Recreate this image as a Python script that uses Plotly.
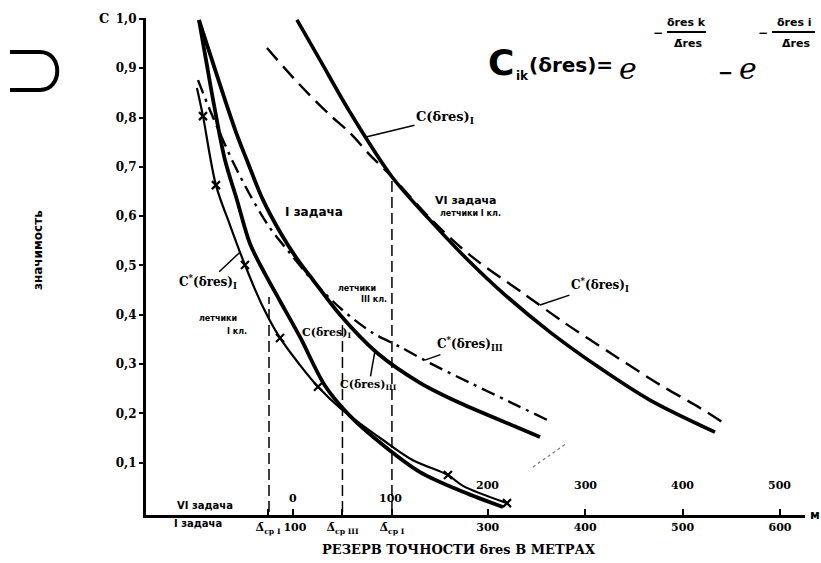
import plotly.graph_objects as go

# ---------------- data ----------------
# x: reserve of accuracy (upper scale, "VI задача"), y: significance C
t1_x = [-98.6, -92.4, -79.1, -64.7, -49.3, -31.8, -13.3, 7.2, 25.7, 48.3, 92.4, 123.2, 159.1, 174.5, 219.7]
t1_y = [0.860, 0.803, 0.663, 0.582, 0.501, 0.420, 0.353, 0.298, 0.254, 0.211, 0.146, 0.105, 0.075, 0.053, 0.018]
t1_mark_x = [-92.4, -79.1, -49.3, -13.3, 25.7, 159.1, 219.7]
t1_mark_y = [0.803, 0.663, 0.501, 0.353, 0.254, 0.075, 0.018]

k1_x = [-96.5, -89.3, -81.1, -69.8, -57.5, -44.1, -28.7, -13.3, 7.2, 32.9, 58.5, 92.4, 130.4, 174.5, 215.6]
k1_y = [0.998, 0.917, 0.826, 0.714, 0.633, 0.544, 0.483, 0.428, 0.355, 0.256, 0.195, 0.136, 0.081, 0.041, 0.010]

k3_x = [-96.5, -83.2, -69.8, -57.5, -46.2, -30.8, -13.3, 5.1, 20.5, 48.3, 86.2, 130.4, 171.5, 230.0, 253.6]
k3_y = [0.998, 0.917, 0.836, 0.765, 0.708, 0.633, 0.568, 0.511, 0.471, 0.400, 0.323, 0.262, 0.221, 0.172, 0.152]

dd_x = [-97.5, -85.2, -72.9, -61.6, -44.1, -23.6, -3.1, 19.5, 48.3, 82.1, 109.9, 140.7, 181.7, 222.8, 260.8]
dd_y = [0.876, 0.815, 0.759, 0.710, 0.643, 0.576, 0.525, 0.471, 0.414, 0.363, 0.335, 0.302, 0.262, 0.223, 0.187]

r1_x = [4.1, 27.7, 58.5, 101.6, 140.7, 181.7, 215.6, 263.9, 315.2, 366.5, 433.3]
r1_y = [0.998, 0.917, 0.811, 0.680, 0.592, 0.507, 0.444, 0.365, 0.292, 0.227, 0.162]

r2_x = [-26.7, 7.2, 38.0, 58.5, 79.1, 101.6, 140.7, 181.7, 236.1, 279.3, 325.5, 376.8, 417.9, 445.6]
r2_y = [0.941, 0.866, 0.805, 0.769, 0.724, 0.680, 0.596, 0.521, 0.444, 0.383, 0.323, 0.258, 0.211, 0.176]

# vertical guide lines (Δср)
vline_x = [-24.6, 50.8, 101.6]
vline_top = [0.436, 0.380, 0.680]

y_ticks = [0.1, 0.2, 0.3, 0.4, 0.5, 0.6, 0.7, 0.8, 0.9, 1.0]
y_tick_text = ["0,1", "0,2", "0,3", "0,4", "0,5", "0,6", "0,7", "0,8", "0,9", "1,0"]

lower_tick_vals = [-25.6, 0, 50.8, 101.6, 200, 300, 400, 500]
lower_tick_text = ["Δ̄<sub>ср I</sub>", " 100", "Δ̄<sub>ср III</sub>", "Δ̄<sub>ср I</sub>", "300", "400", "500", "600"]
upper_tick_vals = [0, 100, 200, 300, 400, 500]
upper_tick_text = ["0", "100", "200", "300", "400", "500"]

# ---------------- figure ----------------
W, H = 821, 563
ML, MT = 146, 18
PW, PH = 659, 497
MR, MB = W - ML - PW, H - MT - PH


def P(px, py):
    """reference-picture pixel -> paper coordinates"""
    return (px - ML) / PW, (H - MB - py) / PH


SERIF = "DejaVu Serif"
SANS = "DejaVu Sans"
BLK = "black"

fig = go.Figure()


def add_line(x, y, width, dash="solid"):
    fig.add_trace(go.Scatter(x=x, y=y, mode="lines",
                             line=dict(color=BLK, width=width, dash=dash, shape="spline", smoothing=0.9),
                             hoverinfo="skip", showlegend=False))


add_line(t1_x, t1_y, 2.2)
add_line(k1_x, k1_y, 3.8)
add_line(k3_x, k3_y, 3.8)
add_line(dd_x, dd_y, 2.4, "14px,6px,3px,6px")
add_line(r1_x, r1_y, 3.6)
add_line(r2_x, r2_y, 2.4, "16px,8px")

fig.add_trace(go.Scatter(x=t1_mark_x, y=t1_mark_y, mode="markers",
                         marker=dict(symbol="x-thin", size=8, line=dict(width=2.2, color=BLK)),
                         hoverinfo="skip", showlegend=False))

for vx, vt in zip(vline_x, vline_top):
    fig.add_trace(go.Scatter(x=[vx, vx], y=[0, vt], mode="lines",
                             line=dict(color=BLK, width=1.5, dash="11px,5px"),
                             hoverinfo="skip", showlegend=False))

ann = []


def txt(px, py, text, size=11, family=SANS, bold=True, xanchor="center", angle=0):
    x, y = P(px, py)
    ann.append(dict(x=x, y=y, xref="paper", yref="paper", text=(f"<b>{text}</b>" if bold else text),
                    showarrow=False, xanchor=xanchor, yanchor="middle", textangle=angle,
                    font=dict(family=family, size=size, color=BLK)))


def leader(xd, yd, ax, ay, text, size=12):
    ann.append(dict(x=xd, y=yd, xref="x", yref="y", text=f"<b>{text}</b>", showarrow=True,
                    arrowhead=0, arrowwidth=1.5, arrowcolor=BLK, ax=ax, ay=ay,
                    font=dict(family=SERIF, size=size, color=BLK)))


# upper x labels (VI задача scale)
for v, t in zip(upper_tick_vals, upper_tick_text):
    ann.append(dict(x=v, y=0, xref="x", yref="y", text=f"<b>{t}</b>", showarrow=False,
                    yanchor="bottom", yshift=18 if v > 150 else 5,
                    font=dict(family=SERIF, size=11, color=BLK)))

txt(205, 505, "VI задача", size=10)
txt(198, 523, "I задача", size=10)
txt(808, 515, "м", size=12, xanchor="left")
txt(104, 18, "C", size=13, family=SERIF)
txt(38, 250, "значимость", size=12, angle=-90)
txt(459, 549, "РЕЗЕРВ ТОЧНОСТИ δres В МЕТРАХ", size=13, family=SERIF)

# curve labels
txt(314, 212, "I задача", size=12)
txt(466, 201, "VI задача", size=11)
txt(470, 213, "летчики I кл.", size=8)
txt(218, 318, "летчики", size=8)
txt(237, 331, "I кл.", size=8)
txt(357, 288, "летчики", size=8)
txt(374, 300, "III кл.", size=8)
txt(327, 333, "C(δres)<sub>I</sub>", size=11, family=SERIF)

leader(76.0, 0.761, 78, -19, "C(δres)<sub>I</sub>", 13)
leader(253.6, 0.420, 60, -20, "C<sup>*</sup>(δres)<sub>I</sub>", 12)
leader(-54.4, 0.527, -32, 30, "C<sup>*</sup>(δres)<sub>I</sub>", 12)
leader(84.2, 0.327, -6, 34, "C(δres)<sub>III</sub>", 11)
leader(135.5, 0.308, 45, -16, "C<sup>*</sup>(δres)<sub>III</sub>", 12)

# formula
txt(501, 62, "C", size=36)
txt(522, 76, "ik", size=12)
txt(571, 65, "(δres)=", size=20)
txt(628, 68, "<i>e</i>", size=30, family=SERIF, bold=False)
txt(658, 33, "−", size=12)
txt(686, 22, "δres k", size=11)
txt(688, 43, "Δ̄res", size=11)
txt(725, 73, "−", size=18)
txt(748, 68, "<i>e</i>", size=30, family=SERIF, bold=False)
txt(763, 33, "−", size=12)
txt(794, 22, "δres i", size=11)
txt(796, 43, "Δ̄res", size=11)

shapes = []
for a, b in [(667, 706), (772, 815)]:
    x0, y0 = P(a, 32)
    x1, _ = P(b, 32)
    shapes.append(dict(type="line", xref="paper", yref="paper", x0=x0, x1=x1, y0=y0, y1=y0,
                       line=dict(color=BLK, width=2)))

# faint dotted stroke near the lower right (scan detail)
d0, d1 = P(533, 467), P(567, 443)
shapes.append(dict(type="line", xref="paper", yref="paper", x0=d0[0], y0=d0[1], x1=d1[0], y1=d1[1],
                   line=dict(color="#777777", width=1.2, dash="dot")))

# horseshoe mark at top-left
p = [P(10, 52), P(40, 52), P(63, 52), P(63, 90), P(40, 90), P(10, 90)]
path = (f"M {p[0][0]},{p[0][1]} L {p[1][0]},{p[1][1]} "
        f"C {p[2][0]},{p[2][1]} {p[3][0]},{p[3][1]} {p[4][0]},{p[4][1]} L {p[5][0]},{p[5][1]}")
shapes.append(dict(type="path", xref="paper", yref="paper", path=path,
                   line=dict(color=BLK, width=4)))

fig.update_layout(
    width=W, height=H, margin=dict(l=ML, r=MR, t=MT, b=MB),
    paper_bgcolor="white", plot_bgcolor="white",
    annotations=ann, shapes=shapes, showlegend=False,
    xaxis=dict(range=[-150.9, 525.7], showgrid=False, zeroline=False,
               showline=True, linecolor=BLK, linewidth=3, automargin=False,
               tickmode="array", tickvals=lower_tick_vals, ticktext=[f"<b>{t}</b>" for t in lower_tick_text],
               tickangle=0,
               ticks="inside", ticklen=6, tickwidth=2, tickcolor=BLK,
               tickfont=dict(family=SERIF, size=11, color=BLK)),
    yaxis=dict(range=[-0.0061, 1.002], showgrid=False, zeroline=False,
               showline=True, linecolor=BLK, linewidth=3, automargin=False,
               tickmode="array", tickvals=y_ticks, ticktext=[f"<b>{t}</b>" for t in y_tick_text],
               ticks="outside", ticklen=4, tickwidth=2, tickcolor=BLK,
               tickfont=dict(family=SERIF, size=12, color=BLK)),
)

# remove the default 8px page margin so the figure fills the window exactly
fig.write_html("out.html",
               config={"displayModeBar": False, "staticPlot": True},
               post_script="document.body.style.margin='0';document.body.style.overflow='hidden';")
